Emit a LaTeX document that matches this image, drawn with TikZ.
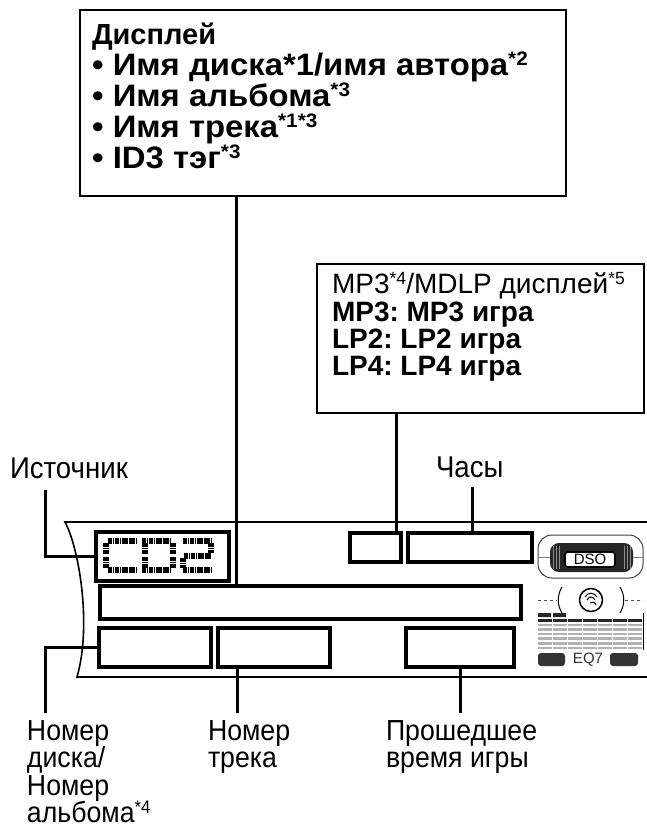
\documentclass[tikz,border=0pt]{standalone}
\usepackage{fontspec}
\setmainfont{Liberation Sans}
\newfontfamily\labfont[FakeStretch=0.92]{Liberation Sans}
\newfontfamily\widefont[FakeStretch=1.06]{Liberation Sans}
\newcommand\supr[1]{\raisebox{0.31em}{\scalebox{0.63}{#1}}}
\frenchspacing
\begin{document}
\begin{tikzpicture}[x=1pt,y=-1pt,
  frame/.style={draw, line width=2.7pt, inner sep=0pt},
  lcdbox/.style={draw, line width=3.6pt, inner sep=0pt},
  conn/.style={line width=3pt},
  outline/.style={line width=1.6pt},
  txt/.style={anchor=base west, inner sep=0pt, outer sep=0pt},
  th/.style={font=\fontsize{29}{30}\selectfont\bfseries},
  tb/.style={font=\widefont\fontsize{31}{31}\selectfont\bfseries},
  mr/.style={font=\fontsize{28}{28}\selectfont},
  mb/.style={font=\fontsize{28}{28}\selectfont\bfseries},
  lab/.style={font=\labfont\fontsize{30}{30}\selectfont},
  labs/.style={font=\labfont\fontsize{29}{29}\selectfont},
  seg/.style={line width=6pt, dash pattern=on 1.8pt off 0.5pt},
  small/.style={font=\fontsize{15}{15}\selectfont, inner sep=0pt}
]
\useasboundingbox (0,0) rectangle (647,830);
\fill[white] (0,0) rectangle (647,830);

% top box
\node[frame, minimum width=486pt, minimum height=186pt] (topbox) at (323,103) {};
\node[txt, th] (t1) at (92,44) {Дисплей};
\node[txt, tb] (t2) at (92,75) {•\hspace{0.3em}Имя диска*1/имя автора\supr{*2}};
\node[txt, tb] (t3) at (92,106) {•\hspace{0.3em}Имя альбома\supr{*3}};
\node[txt, tb] (t4) at (92,137) {•\hspace{0.3em}Имя трека\supr{*1*3}};
\node[txt, tb] (t5) at (92,168) {•\hspace{0.3em}ID3 тэг\supr{*3}};

% MP3 box
\node[frame, minimum width=327pt, minimum height=149pt] (mp3box) at (480.5,338.5) {};
\node[txt, mr] (m1) at (332,293) {MP3\supr{*4}/MDLP дисплей\supr{*5}};
\node[txt, mb] (m2) at (332,321) {MP3: MP3 игра};
\node[txt, mb] (m3) at (332,348) {LP2: LP2 игра};
\node[txt, mb] (m4) at (332,375) {LP4: LP4 игра};

% labels
\node[txt, lab] (srclab) at (10,478) {Источник};
\node[txt, lab] (clocklab) at (436,477) {Часы};
\node[txt, labs] (l1a) at (27,740) {Номер};
\node[txt, labs] (l1b) at (27,767.5) {диска/};
\node[txt, labs] (l1c) at (27,795) {Номер};
\node[txt, labs] (l1d) at (27,822.5) {альбома\supr{*4}};
\node[txt, labs] (l2a) at (208,740) {Номер};
\node[txt, labs] (l2b) at (208,767.5) {трека};
\node[txt, labs] (l3a) at (386,740) {Прошедшее};
\node[txt, labs] (l3b) at (386,767.5) {время игры};

% display outline
\draw[outline] (647,522) -- (65,522) .. controls (79,548) and (92,625) .. (77,677) -- (647,677);

% display boxes
\node[lcdbox, minimum width=133pt, minimum height=49pt] (cd2box) at (162.5,556.5) {};
\node[lcdbox, minimum width=421pt, minimum height=33pt] (bar) at (310.5,602.5) {};
\node[lcdbox, minimum width=51pt, minimum height=29pt] (smallbox) at (375.5,547.5) {};
\node[lcdbox, minimum width=124pt, minimum height=29pt] (clockbox) at (470,547.5) {};
\node[lcdbox, minimum width=112pt, minimum height=39pt] (discbox) at (155,647.5) {};
\node[lcdbox, minimum width=112pt, minimum height=39pt] (trackbox) at (274,647.5) {};
\node[lcdbox, minimum width=108pt, minimum height=39pt] (timebox) at (460,647.5) {};

% CD2 segments
\draw[seg] (108,541)--(136,541) (106,543)--(106,554) (106,557)--(106,568) (108,570)--(136,570);
\draw[seg] (142,541)--(171,541) (173,543)--(173,554) (173,557)--(173,568) (142,570)--(171,570)
           (145,543)--(145,554) (145,557)--(145,568);
\draw[seg] (183,541)--(211,541) (211,543)--(211,553) (184,555.5)--(211,555.5) (183,558)--(183,568) (183,570)--(211,570);

% connectors
\coordinate (xa) at (236,0);
\draw[conn] (topbox.south -| xa) -- (bar.north -| xa);
\coordinate (xb) at (396,0);
\draw[conn] (mp3box.south -| xb) -- (smallbox.north -| xb);
\coordinate (ck) at (472,487);
\draw[conn] (ck) -- (ck |- clockbox.north);
\coordinate (sk) at (45,490);
\draw[conn] (sk) |- (cd2box.west);
\coordinate (dk) at (45,713);
\draw[conn] (discbox.west) -| (dk);
\coordinate (tk) at (237,713);
\draw[conn] (tk |- trackbox.south) -- (tk);
\draw[conn] (timebox.south) -- (timebox.south |- tk);

% DSO logo
\draw[line width=1pt, black!75, rounded corners=14pt] (538,535) rectangle (643,578);
\draw[line width=0.6pt, black!50] (538,557) -- (550,557) (633,557) -- (643,557);
\fill[black!85, rounded corners=9pt] (550,543) rectangle (633,572);
\foreach \x in {553,556,559,624,627,630} \draw[black!45, line width=0.6pt] (\x,546) -- (\x,569);
\node[draw, line width=1.6pt, fill=white, rounded corners=3pt, minimum width=50pt, minimum height=15pt, small] (dso) at (590,559.5) {DSO};

% disc icon
\node[draw, circle, line width=1.5pt, minimum size=23pt, inner sep=0pt] (disc) at (591,600) {};
\draw[line width=1pt] (585,597) .. controls (588,592) and (594,592) .. (597,597);
\draw[line width=1pt] (587,600) .. controls (589,596) and (593,596) .. (595,600);
\draw[line width=1pt] (590,603) .. controls (592,601) and (595,602) .. (596,605);
\draw[line width=1pt] (562,587) .. controls (557,595) and (557,605) .. (562,613);
\draw[line width=1pt] (620,587) .. controls (625,595) and (625,605) .. (620,613);
\draw[line width=0.8pt, dashed, black!70] (538,600) -- (557,600) (625,600) -- (643,600);

% EQ bars
\fill[black!85] (538,613) rectangle (551,617) (553,613) rectangle (566,617);
\foreach \i in {0,...,6} {
  \fill[black!85] (538+\i*15,619) rectangle +(13.5,3);
  \foreach \j in {1,...,6} \fill[black!30] (538+\i*15,619+\j*4.6) rectangle +(13.5,2.6);
}
\draw[line width=1pt] (643,613) -- (643,650);
\fill[black!80, rounded corners=3pt] (538,653) rectangle (565,666);
\fill[black!80, rounded corners=3pt] (610,653) rectangle (638,666);
\node[small, text=black!80] (eq) at (588,659.5) {EQ7};
\end{tikzpicture}
\end{document}
